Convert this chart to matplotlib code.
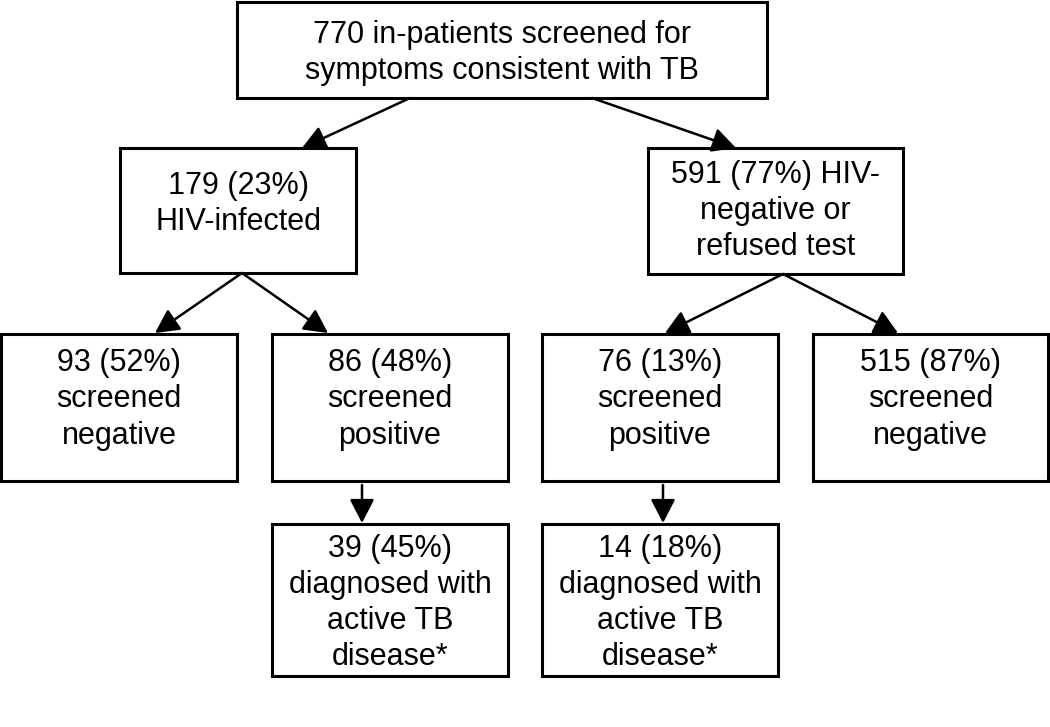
import matplotlib.pyplot as plt
from matplotlib.patches import Rectangle

plt.rcParams['font.family'] = ['Liberation Sans', 'DejaVu Sans']

# box labels
top_label = "770 in-patients screened for\nsymptoms consistent with TB"
hiv_pos_label = "179 (23%)\nHIV-infected"
hiv_neg_label = "591 (77%) HIV-\nnegative or\nrefused test"
screen_labels = ["93 (52%)\nscreened\nnegative",
                 "86 (48%)\nscreened\npositive",
                 "76 (13%)\nscreened\npositive",
                 "515 (87%)\nscreened\nnegative"]
diag_labels = ["39 (45%)\ndiagnosed with\nactive TB\ndisease*",
               "14 (18%)\ndiagnosed with\nactive TB\ndisease*"]

fig = plt.figure(figsize=(10.5, 7.27), dpi=100)
ax = fig.add_axes([0, 0, 1, 1])
ax.set_xlim(0, 1050)
ax.set_ylim(727, 0)
ax.axis('off')


def box(x0, y0, x1, y1, text, frac):
    ax.add_patch(Rectangle((x0, y0), x1 - x0, y1 - y0, fill=False,
                           edgecolor='black', linewidth=2.2))
    ax.text((x0 + x1) / 2, y0 + frac * (y1 - y0), text, ha='center',
            va='center', fontsize=22, linespacing=1.27)


def arrow(x0, y0, x1, y1):
    ax.annotate('', xy=(x1, y1), xytext=(x0, y0),
                arrowprops=dict(arrowstyle='-|>,head_length=1.45,head_width=0.75',
                                color='black', lw=1.8, shrinkA=0, shrinkB=0))


box(237, 2, 767, 98, top_label, 0.53)
box(120, 148, 356, 273, hiv_pos_label, 0.45)
box(648, 148, 903, 274, hiv_neg_label, 0.5)

row = [(1, 237), (272, 508), (542, 778), (813, 1048)]
for (x0, x1), lab in zip(row, screen_labels):
    box(x0, 334, x1, 481, lab, 0.445)

for (x0, x1), lab in zip(row[1:3], diag_labels):
    box(x0, 524, x1, 676, lab, 0.52)

arrow(410, 98, 302, 148)
arrow(592, 98, 736, 148)
arrow(242, 273, 155, 333)
arrow(242, 273, 328, 333)
arrow(783, 274, 665, 333)
arrow(783, 274, 898, 333)
arrow(362, 485, 362, 523)
arrow(663, 485, 663, 523)

fig.savefig('out.png', dpi=100)
